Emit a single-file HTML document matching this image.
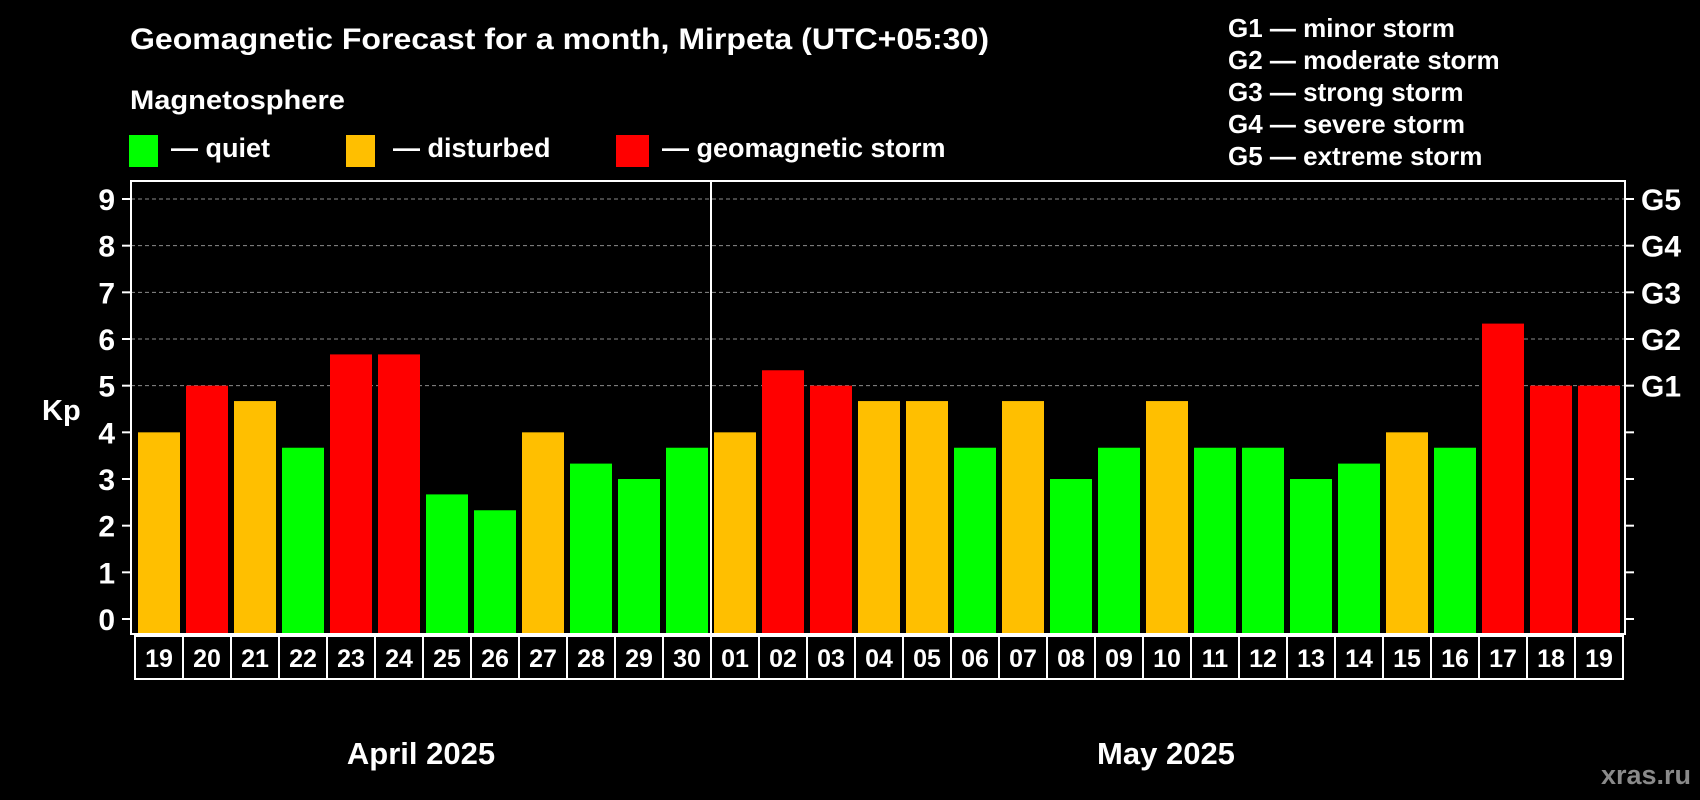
<!DOCTYPE html>
<html><head><meta charset="utf-8"><style>
html,body{margin:0;padding:0;background:#000;}
svg{display:block;font-family:"Liberation Sans",sans-serif;font-weight:bold;}
</style></head><body>
<svg id="chart" width="1700" height="800" viewBox="0 0 1700 800" xmlns="http://www.w3.org/2000/svg">
<rect width="1700" height="800" fill="#000"/>
<text x="130" y="49" fill="#fff" font-size="30" textLength="859" lengthAdjust="spacingAndGlyphs">Geomagnetic Forecast for a month, Mirpeta (UTC+05:30)</text>
<text x="130" y="109" fill="#fff" font-size="27" textLength="215" lengthAdjust="spacingAndGlyphs">Magnetosphere</text>
<g>
<rect x="129" y="135" width="29" height="32" fill="#00ff00"/>
<text x="171" y="157" fill="#fff" font-size="27">— quiet</text>
<rect x="346" y="135" width="29" height="32" fill="#ffbf00"/>
<text x="393" y="157" fill="#fff" font-size="27">— disturbed</text>
<rect x="616" y="135" width="33" height="32" fill="#ff0000"/>
<text x="662" y="157" fill="#fff" font-size="27">— geomagnetic storm</text>
</g>
<g fill="#fff" font-size="26">
<text x="1228" y="37">G1 — minor storm</text>
<text x="1228" y="69">G2 — moderate storm</text>
<text x="1228" y="101">G3 — strong storm</text>
<text x="1228" y="133">G4 — severe storm</text>
<text x="1228" y="165">G5 — extreme storm</text>
</g>
<text x="42" y="420" fill="#fff" font-size="29">Kp</text>
<g id="grid"></g>
<g id="bars"></g>
<g id="axes"></g>
<g id="days"></g>
<text x="421" y="764" fill="#fff" font-size="31" text-anchor="middle">April 2025</text>
<text x="1166" y="764" fill="#fff" font-size="31" text-anchor="middle">May 2025</text>
<text x="1691" y="784" fill="#8a8a8a" font-size="27" text-anchor="end">xras.ru</text>
</svg>
<script>
const days = ["19","20","21","22","23","24","25","26","27","28","29","30","01","02","03","04","05","06","07","08","09","10","11","12","13","14","15","16","17","18","19"];
const kpValues = [4,5,4.67,3.67,5.67,5.67,2.67,2.33,4,3.33,3,3.67,4,5.33,5,4.67,4.67,3.67,4.67,3,3.67,4.67,3.67,3.67,3,3.33,4,3.67,6.33,5,5];
const yTicks = [0,1,2,3,4,5,6,7,8,9];
const gLabels = ["G1","G2","G3","G4","G5"];
const gLevels = [5,6,7,8,9];
const monthSplitIndex = 12;

const NS = "http://www.w3.org/2000/svg";
const plotL = 131, plotR = 1625, plotT = 181, plotB = 634;
const y0 = 619, unit = (619 - 199) / 9;
const pitch = 48, barW = 42, barStart = 138, boxStart = 135;
function yScale(v){ return y0 - v * unit; }
function xBar(i){ return barStart + i * pitch; }
function xBox(i){ return boxStart + i * pitch; }
function colorFor(v){ return v >= 5 ? "#ff0000" : (v >= 4 ? "#ffbf00" : "#00ff00"); }
function mk(tag, attrs, parent){
  const el = document.createElementNS(NS, tag);
  for (const k in attrs) el.setAttribute(k, attrs[k]);
  parent.appendChild(el);
  return el;
}
const grid = document.getElementById("grid");
const bars = document.getElementById("bars");
const axes = document.getElementById("axes");
const dayG = document.getElementById("days");

gLevels.forEach((lv, i) => {
  const l = mk("line", {x1: plotL, x2: plotR, y1: yScale(lv), y2: yScale(lv), stroke: "#8c8c8c", "stroke-width": 1, "stroke-dasharray": "4,3"}, grid);
  
  
  const t = mk("text", {x: 1641, y: yScale(lv) + 11, fill: "#fff", "font-size": 30}, axes);
  t.textContent = gLabels[i];
  
  
});

kpValues.forEach((v, i) => {
  const r = mk("rect", {x: xBar(i), y: yScale(v), width: barW, height: plotB - 1 - yScale(v), fill: colorFor(v)}, bars);
  
  
});

const frame = mk("rect", {x: plotL, y: plotT, width: plotR - plotL, height: plotB - plotT, fill: "none", stroke: "#fff", "stroke-width": 2}, axes);


const div = mk("line", {x1: xBox(monthSplitIndex), x2: xBox(monthSplitIndex), y1: plotT, y2: plotB, stroke: "#fff", "stroke-width": 2}, axes);



yTicks.forEach(v => {
  const a = mk("line", {x1: 122, x2: plotL, y1: yScale(v), y2: yScale(v), stroke: "#fff", "stroke-width": 2}, axes);
  
  
  const b = mk("line", {x1: plotR, x2: 1634, y1: yScale(v), y2: yScale(v), stroke: "#fff", "stroke-width": 2}, axes);
  
  
  const t = mk("text", {x: 115, y: yScale(v) + 11, fill: "#fff", "font-size": 30, "text-anchor": "end"}, axes);
  t.textContent = v;
  
  
});

days.forEach((d, i) => {
  const r = mk("rect", {x: xBox(i), y: 636, width: pitch, height: 43, fill: "none", stroke: "#fff", "stroke-width": 2}, dayG);
  
  
  const t = mk("text", {x: xBox(i) + pitch / 2, y: 667, fill: "#fff", "font-size": 25, "text-anchor": "middle"}, dayG);
  t.textContent = d;
  
  
});
</script>
</body></html>
